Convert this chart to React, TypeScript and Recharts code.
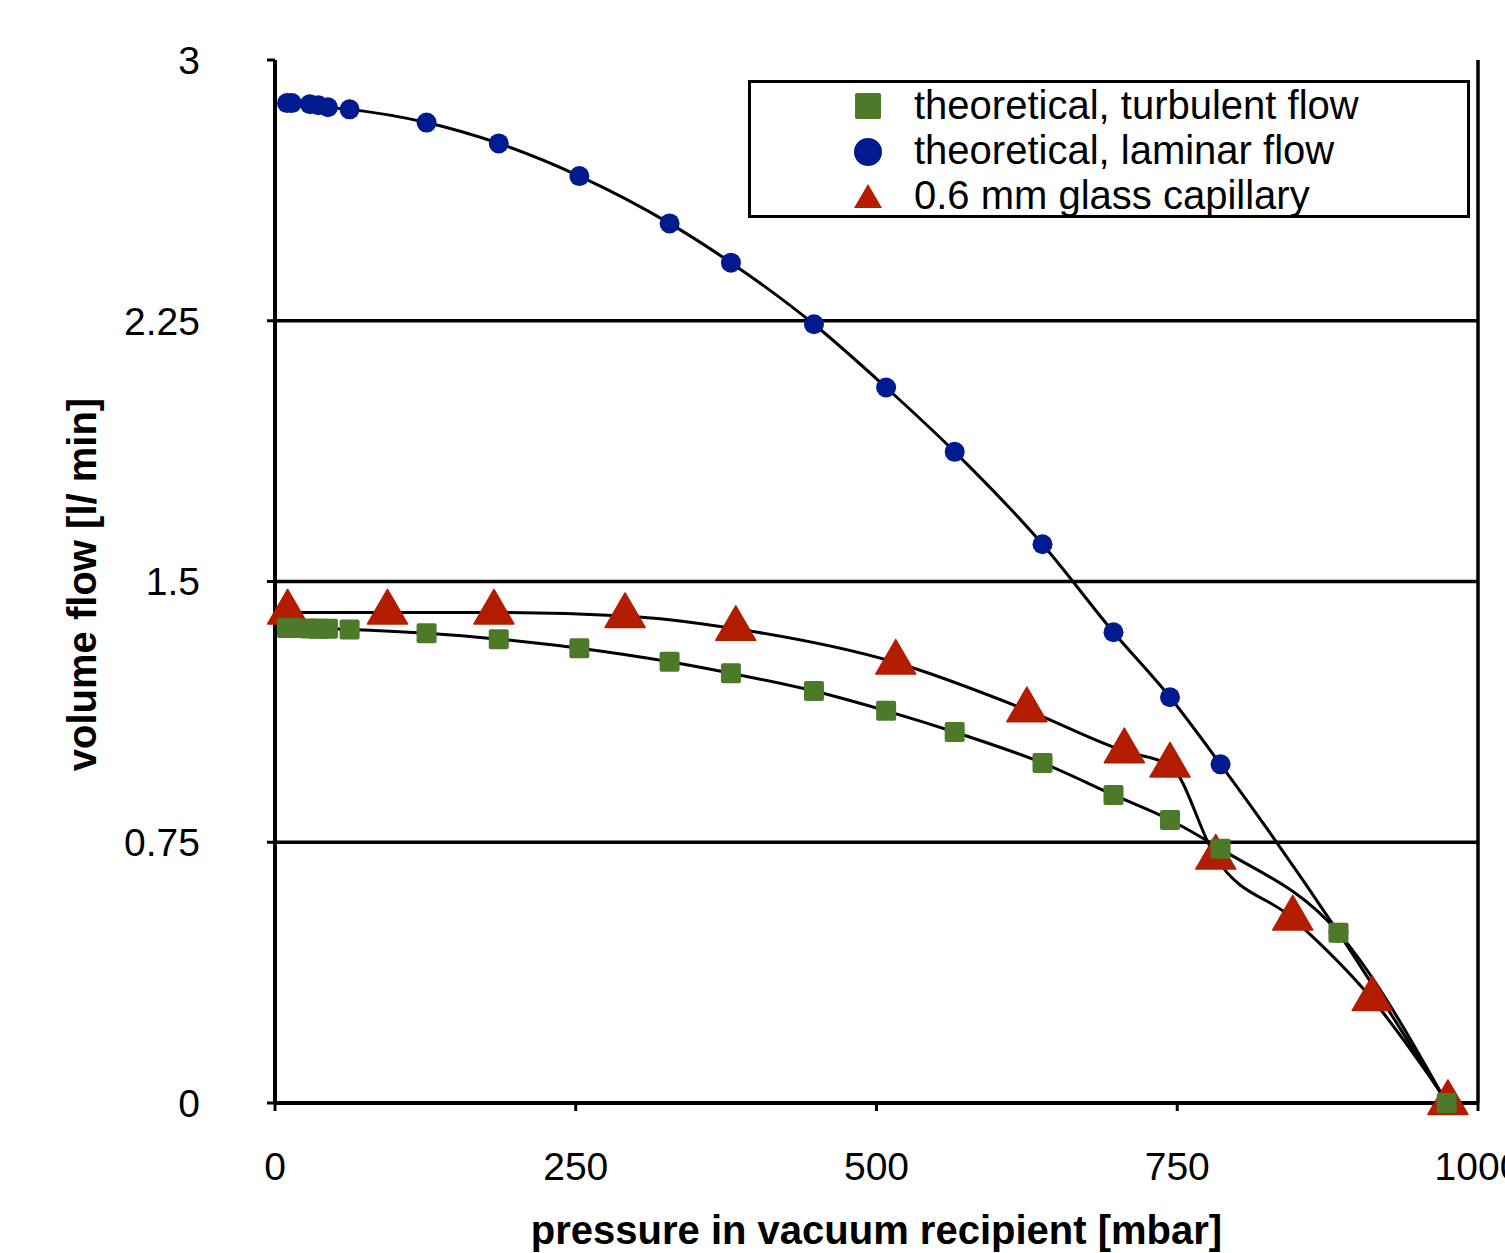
import React from 'react';
import { ComposedChart, Line, XAxis, YAxis, CartesianGrid, Legend } from 'recharts';

// pressure in mbar, flow in l/min
const theoryPressure = [10, 14, 29, 36, 44, 62, 126, 186, 253, 328, 379, 448, 508, 565, 638, 697, 744, 786, 884, 974];
const laminarFlow = [2.876, 2.876, 2.873, 2.870, 2.864, 2.858, 2.820, 2.760, 2.666, 2.530, 2.417, 2.240, 2.058, 1.873, 1.607, 1.354, 1.167, 0.974, 0.490, 0];
const turbulentFlow = [1.366, 1.366, 1.365, 1.364, 1.364, 1.362, 1.351, 1.334, 1.308, 1.269, 1.236, 1.185, 1.128, 1.067, 0.978, 0.886, 0.814, 0.731, 0.490, 0];
const capillaryPressure = [10.5, 93.5, 182, 291, 383, 516, 625, 706, 744, 782, 846, 912, 975];
const capillaryFlow = [1.411, 1.411, 1.411, 1.401, 1.364, 1.267, 1.130, 1.012, 0.971, 0.706, 0.531, 0.299, 0];

const xTicks = [0, 250, 500, 750, 1000];
const yTicks = [0, 0.75, 1.5, 2.25, 3];
const gridLevels = [0.75, 1.5, 2.25];

const GREEN = '#4c7a28';
const BLUE = '#001a8f';
const RED = '#b41c00';
const FONT = '"Liberation Sans", Arial, sans-serif';

const turbulentData = theoryPressure.map((p, i) => ({ p, v: turbulentFlow[i] }));
const laminarData = theoryPressure.map((p, i) => ({ p, v: laminarFlow[i] }));
const capillaryData = capillaryPressure.map((p, i) => ({ p, v: capillaryFlow[i] }));

const legendItems = [
  { name: 'theoretical, turbulent flow', shape: 'square', color: GREEN },
  { name: 'theoretical, laminar flow', shape: 'circle', color: BLUE },
  { name: '0.6 mm glass capillary', shape: 'triangle', color: RED },
];

const squareDot = (props: any) => {
  const { cx, cy, index } = props;
  if (cx == null || cy == null) return <g key={`sq-${index}`} />;
  return <rect key={`sq-${index}`} x={cx - 10} y={cy - 10} width={20} height={20} rx={2} fill={GREEN} />;
};

const circleDot = (props: any) => {
  const { cx, cy, index } = props;
  if (cx == null || cy == null) return <g key={`ci-${index}`} />;
  return <circle key={`ci-${index}`} cx={cx} cy={cy} r={10} fill={BLUE} />;
};

const triangleDot = (props: any) => {
  const { cx, cy, index } = props;
  if (cx == null || cy == null) return <g key={`tr-${index}`} />;
  const d = `M${cx},${cy - 23} L${cx + 20},${cy + 11.5} L${cx - 20},${cy + 11.5} Z`;
  return <path key={`tr-${index}`} d={d} fill={RED} strokeLinejoin="round" stroke={RED} strokeWidth={1.5} />;
};

const LegendMarker = ({ shape, color }: { shape: string; color: string }) => (
  <svg width={30} height={45} style={{ position: 'absolute', left: 102, top: 0 }}>
    {shape === 'square' && <rect x={2} y={10} width={26} height={26} rx={2} fill={color} />}
    {shape === 'circle' && <circle cx={15} cy={24} r={14} fill={color} />}
    {shape === 'triangle' && <path d="M15,11 L29,35 L1,35 Z" fill={color} />}
  </svg>
);

const renderLegend = () => (
  <div
    style={{
      width: 722,
      height: 138,
      border: '3px solid #000',
      boxSizing: 'border-box',
      background: '#fff',
      fontFamily: FONT,
    }}
  >
    {legendItems.map((item) => (
      <div key={item.name} style={{ position: 'relative', height: 45 }}>
        <LegendMarker shape={item.shape} color={item.color} />
        <span style={{ position: 'absolute', left: 163, top: 0, lineHeight: '45px', fontSize: 40, color: '#000', whiteSpace: 'nowrap' }}>
          {item.name}
        </span>
      </div>
    ))}
  </div>
);

const YTitle = (props: any) => {
  const vb = props.viewBox || { y: 60, height: 1043 };
  const cy = vb.y + vb.height / 2 + 3;
  return (
    <text
      x={82}
      y={cy}
      transform={`rotate(-90 82 ${cy})`}
      textAnchor="middle"
      dominantBaseline="central"
      fontFamily={FONT}
      fontSize={40}
      fontWeight="bold"
      fill="#000"
    >
      volume flow [l/ min]
    </text>
  );
};

const XTitle = (props: any) => {
  const vb = props.viewBox || { x: 275, y: 1103, width: 1203, height: 150 };
  return (
    <text
      x={vb.x + vb.width / 2}
      y={vb.y + vb.height - 9}
      textAnchor="middle"
      fontFamily={FONT}
      fontSize={40}
      fontWeight="bold"
      fill="#000"
    >
      pressure in vacuum recipient [mbar]
    </text>
  );
};

export default function App() {
  return (
    <div style={{ position: 'absolute', left: 0, top: 0, width: 1505, height: 1253, background: '#fff', overflow: 'hidden' }}>
      <ComposedChart width={1505} height={1253} margin={{ top: 60, right: 27, bottom: 0, left: 0 }}>
        <CartesianGrid
          horizontalValues={gridLevels}
          verticalValues={[1000]}
          stroke="#000"
          strokeWidth={3.5}
        />
        <XAxis
          type="number"
          dataKey="p"
          domain={[0, 1000]}
          ticks={xTicks}
          interval={0}
          height={150}
          tickSize={8}
          tickMargin={41}
          axisLine={{ stroke: '#000', strokeWidth: 4 }}
          tickLine={{ stroke: '#000', strokeWidth: 3 }}
          tick={{ fontSize: 39, fill: '#000', fontFamily: FONT }}
          label={<XTitle />}
        />
        <YAxis
          type="number"
          domain={[0, 3]}
          ticks={yTicks}
          interval={0}
          width={275}
          tickSize={8}
          tickMargin={67}
          axisLine={{ stroke: '#000', strokeWidth: 4 }}
          tickLine={{ stroke: '#000', strokeWidth: 3 }}
          tick={{ fontSize: 39, fill: '#000', fontFamily: FONT }}
          label={<YTitle />}
        />
        <Legend
          content={renderLegend}
          layout="vertical"
          align="center"
          verticalAlign="middle"
          wrapperStyle={{ left: 748, top: 80, width: 722, height: 138 }}
        />

        {/* smoothed curves */}
        <Line data={capillaryData} dataKey="v" type="monotone" stroke="#000" strokeWidth={3} dot={false} activeDot={false} legendType="none" isAnimationActive={false} />
        <Line data={laminarData} dataKey="v" type="monotone" stroke="#000" strokeWidth={3} dot={false} activeDot={false} legendType="none" isAnimationActive={false} />
        <Line data={turbulentData} dataKey="v" type="monotone" stroke="#000" strokeWidth={3} dot={false} activeDot={false} legendType="none" isAnimationActive={false} />

        {/* markers */}
        <Line data={capillaryData} dataKey="v" name="0.6 mm glass capillary" stroke="none" strokeWidth={0} dot={triangleDot} activeDot={false} isAnimationActive={false} />
        <Line data={laminarData} dataKey="v" name="theoretical, laminar flow" stroke="none" strokeWidth={0} dot={circleDot} activeDot={false} isAnimationActive={false} />
        <Line data={turbulentData} dataKey="v" name="theoretical, turbulent flow" stroke="none" strokeWidth={0} dot={squareDot} activeDot={false} isAnimationActive={false} />
      </ComposedChart>
    </div>
  );
}
